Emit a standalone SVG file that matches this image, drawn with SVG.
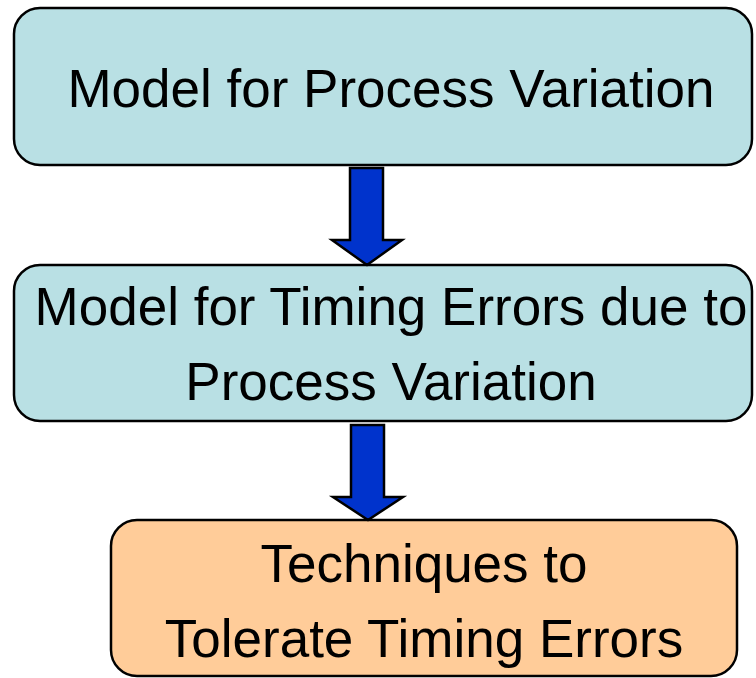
<svg xmlns="http://www.w3.org/2000/svg" width="756" height="678" viewBox="0 0 756 678">
  <style>
    .box { stroke: #000; stroke-width: 2.5; }
    .teal { fill: #B9E0E4; }
    .peach { fill: #FFCC99; }
    .label { font-family: "Liberation Sans", Arial, sans-serif; font-size: 53px; fill: #000; text-anchor: middle; }
    .arrow { fill: #0033CC; stroke: #000; stroke-width: 2.5; stroke-linejoin: miter; }
  </style>
  <rect width="756" height="678" fill="#fff"/>

  <g id="process-variation">
    <rect class="box teal" x="14" y="8" width="738" height="157" rx="26"/>
    <text class="label" x="391" y="107">Model for Process Variation</text>
  </g>

  <g id="timing-errors">
    <rect class="box teal" x="14" y="265" width="738" height="156" rx="26"/>
    <text class="label" x="391" y="325">Model for Timing Errors due to</text>
    <text class="label" x="391" y="400">Process Variation</text>
  </g>

  <g id="tolerate-techniques">
    <rect class="box peach" x="111" y="520" width="626" height="156" rx="26"/>
    <text class="label" x="424" y="582">Techniques to</text>
    <text class="label" x="424" y="657">Tolerate Timing Errors</text>
  </g>

  <g id="connectors">
    <path class="arrow" d="M350,168 H383 V240 H402 L367,265 L332,240 H350 Z"/>
    <path class="arrow" d="M351,425 H384 V497 H403 L368,520 L333,497 H351 Z"/>
  </g>
</svg>
